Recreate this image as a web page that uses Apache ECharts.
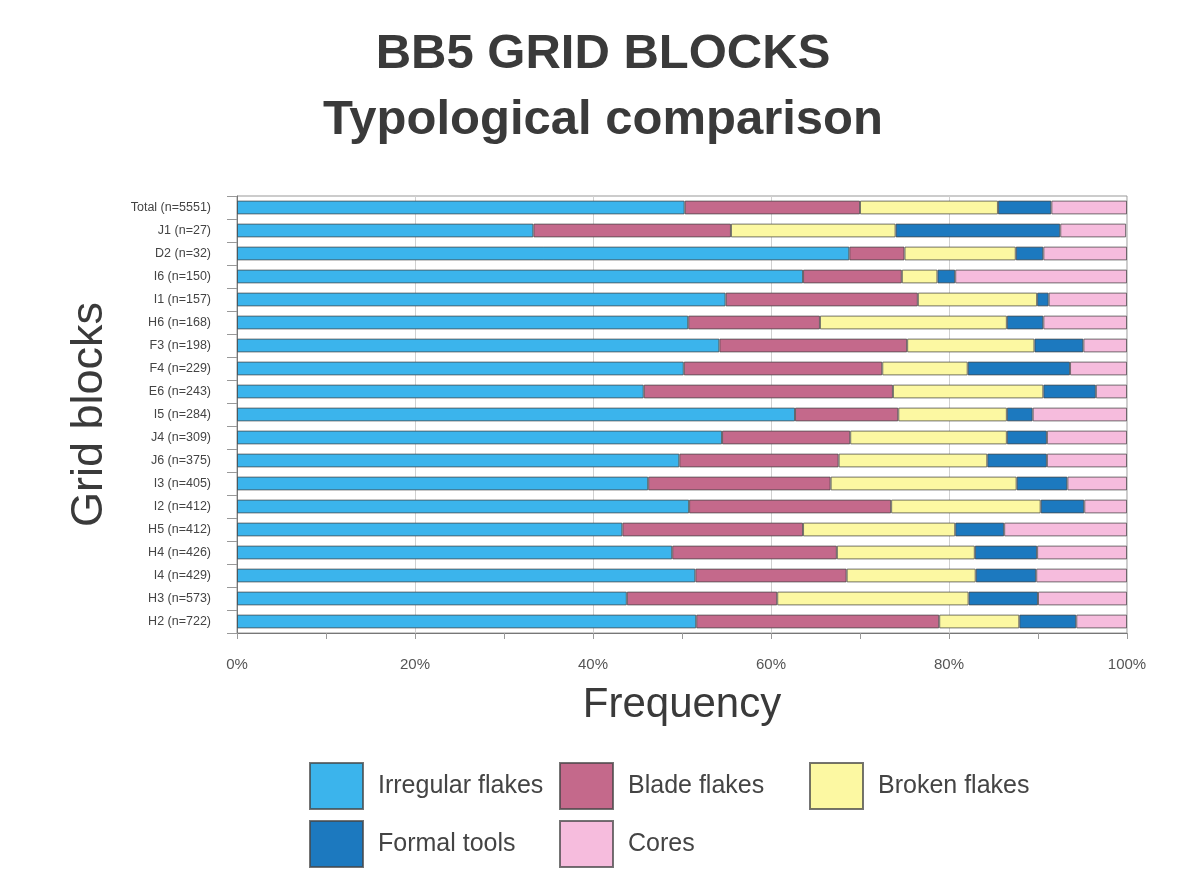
<!DOCTYPE html>
<html>
<head>
<meta charset="utf-8">
<title>BB5 grid blocks</title>
<script src="https://cdn.jsdelivr.net/npm/echarts@6/dist/echarts.min.js"></script>
<style>
  html, body { margin: 0; padding: 0; background: #fff; }
  #chart { width: 1188px; height: 887px; }
</style>
</head>
<body>
<div id="chart"></div>
<script>
// grid blocks, top to bottom
const blocks = ['Total (n=5551)', 'J1 (n=27)', 'D2 (n=32)', 'I6 (n=150)', 'I1 (n=157)', 'H6 (n=168)',
  'F3 (n=198)', 'F4 (n=229)', 'E6 (n=243)', 'I5 (n=284)', 'J4 (n=309)', 'J6 (n=375)', 'I3 (n=405)',
  'I2 (n=412)', 'H5 (n=412)', 'H4 (n=426)', 'I4 (n=429)', 'H3 (n=573)', 'H2 (n=722)']

// percentages per type, same order as blocks
const irregular = [50.3, 33.3, 68.8, 63.6, 54.9, 50.7, 54.2, 50.2, 45.7, 62.7, 54.5, 49.7, 46.2, 50.8, 43.3, 48.9, 51.5, 43.8, 51.6]
const blade = [19.7, 22.2, 6.2, 11.1, 21.6, 14.8, 21.1, 22.3, 28.0, 11.6, 14.4, 17.9, 20.5, 22.7, 20.3, 18.5, 17.0, 16.9, 27.3]
const broken = [15.5, 18.5, 12.5, 4.0, 13.4, 21.0, 14.3, 9.6, 16.9, 12.2, 17.6, 16.7, 20.9, 16.8, 17.1, 15.5, 14.5, 21.5, 9.0]
const formal = [6.0, 18.5, 3.1, 2.0, 1.3, 4.1, 5.5, 11.5, 5.9, 2.9, 4.5, 6.7, 5.7, 4.9, 5.5, 7.0, 6.8, 7.8, 6.4]
const cores = [8.5, 7.4, 9.4, 19.3, 8.8, 9.4, 4.9, 6.4, 3.5, 10.6, 9.0, 9.0, 6.7, 4.8, 13.8, 10.1, 10.2, 10.0, 5.7]

const typeNames = ['Irregular flakes', 'Blade flakes', 'Broken flakes', 'Formal tools', 'Cores']
const typeData = [irregular, blade, broken, formal, cores]
const typeColors = ['#3bb4ec', '#c4698b', '#fcf8a2', '#1c79bf', '#f6bcdd']

// legend placement (two rows, three columns)
const legendPos = [[309, 762], [559, 762], [809, 762], [309, 820], [559, 820]]

const chart = echarts.init(document.getElementById('chart'))

const series = typeNames.map((name, i) => ({
  name: name,
  type: 'bar',
  stack: 'all',
  barWidth: '60%',
  data: typeData[i],
  itemStyle: {
    color: typeColors[i],
    borderColor: 'rgba(70,70,70,0.75)',
    borderWidth: 1
  }
}))

const legends = typeNames.map((name, i) => ({
  data: [name],
  left: legendPos[i][0],
  top: legendPos[i][1],
  padding: 0,
  itemWidth: 53,
  itemHeight: 46,
  itemGap: 0,
  icon: 'rect',
  textStyle: {
    fontFamily: 'Liberation Sans, Arial, sans-serif',
    fontSize: 25,
    color: '#444',
    padding: [0, 0, 0, 10]
  },
  selectedMode: false
}))

chart.setOption({
  backgroundColor: '#fff',
  animation: false,
  title: {
    text: 'BB5 GRID BLOCKS\nTypological comparison',
    left: 598,
    top: 16,
    textAlign: 'center',
    textStyle: {
      fontFamily: 'Liberation Sans, Arial, sans-serif',
      fontSize: 49,
      fontWeight: 'bold',
      color: '#3a3a3a',
      lineHeight: 66
    }
  },
  legend: legends,
  grid: {
    left: 237,
    right: 61,
    top: 196,
    bottom: 254,
    show: true,
    borderColor: '#999',
    borderWidth: 1
  },
  xAxis: {
    type: 'value',
    min: 0,
    max: 100,
    interval: 20,
    name: 'Frequency',
    nameLocation: 'middle',
    nameGap: 51,
    nameTextStyle: {
      fontFamily: 'Liberation Sans, Arial, sans-serif',
      fontSize: 42,
      color: '#3a3a3a'
    },
    axisLine: { show: true, lineStyle: { color: '#777' } },
    axisTick: { show: true, length: 6, lineStyle: { color: '#999' } },
    minorTick: { show: true, splitNumber: 2, length: 6, lineStyle: { color: '#999' } },
    splitLine: { show: true, lineStyle: { color: '#d0d0d0' } },
    axisLabel: {
      formatter: v => v + '%',
      margin: 24,
      fontFamily: 'Liberation Sans, Arial, sans-serif',
      fontSize: 15,
      color: '#555'
    }
  },
  yAxis: {
    type: 'category',
    data: blocks,
    inverse: true,
    name: 'Grid blocks',
    nameLocation: 'middle',
    nameGap: 125,
    nameRotate: 90,
    nameTextStyle: {
      fontFamily: 'Liberation Sans, Arial, sans-serif',
      fontSize: 45,
      color: '#3a3a3a'
    },
    axisLine: { show: true, lineStyle: { color: '#777' } },
    axisTick: { show: true, length: 10, lineStyle: { color: '#999' } },
    axisLabel: {
      margin: 26,
      fontFamily: 'Liberation Sans, Arial, sans-serif',
      fontSize: 12.5,
      color: '#444'
    }
  },
  series: series
})
</script>
</body>
</html>
